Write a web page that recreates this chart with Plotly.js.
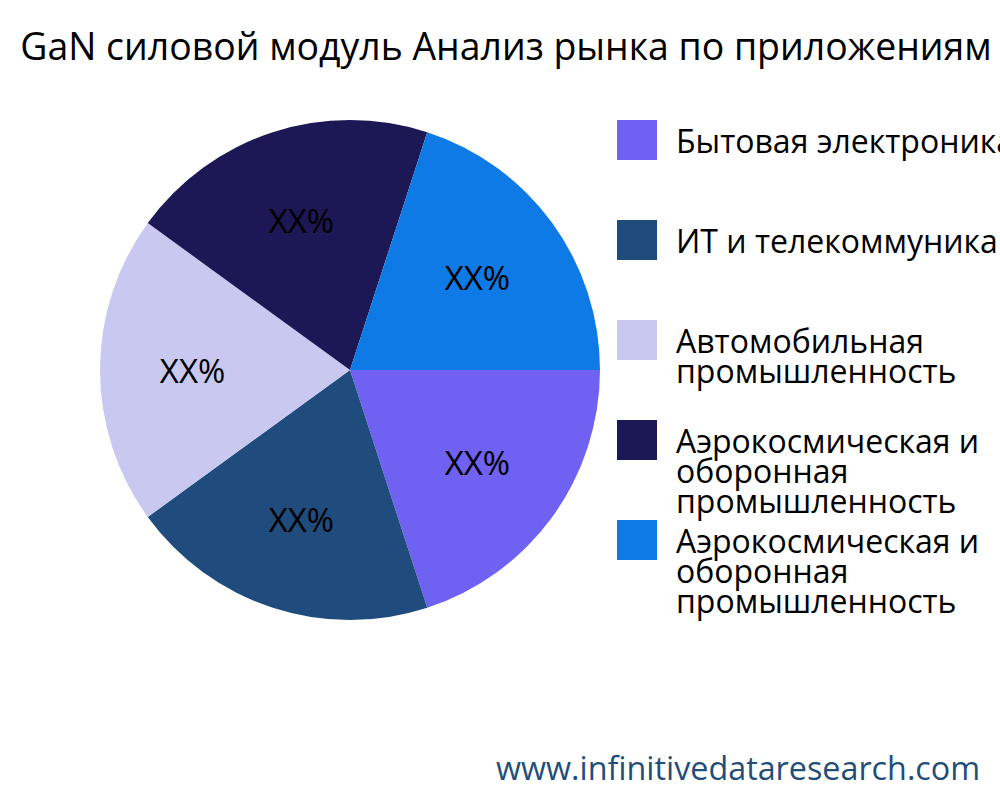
<!DOCTYPE html>
<html>
<head>
<meta charset="utf-8">
<script src="https://cdn.plot.ly/plotly-3.0.1.min.js"></script>
<style>html,body{margin:0;padding:0;background:#fff;}#chart{width:1000px;height:800px;}</style>
</head>
<body>
<div id="chart"></div>
<script>
const chartTitle = 'GaN силовой модуль Анализ рынка по приложениям';
const labels = ['Бытовая электроника', 'ИТ и телекоммуникации', 'Автомобильная промышленность', 'Аэрокосмическая и оборонная промышленность', 'Аэрокосмическая и оборонная промышленность'];
const values = [20, 20, 20, 20, 20];
const sliceText = ['XX%', 'XX%', 'XX%', 'XX%', 'XX%'];
const colors = ['#6F61F2', '#1F4C7C', '#C8C8F0', '#1C1755', '#0E7AE6'];
const watermark = 'www.infinitivedataresearch.com';

const W = 1000, H = 800;
const FONT = 'Open Sans, Noto Sans, sans-serif';

function wrap(str, maxLen) {
  const words = str.split(' ');
  const lines = [];
  let cur = '';
  words.forEach(w => {
    const cand = cur ? cur + ' ' + w : w;
    if (cand.length > maxLen && cur) { lines.push(cur); cur = w; }
    else cur = cand;
  });
  if (cur) lines.push(cur);
  return lines;
}

const trace = {
  type: 'pie',
  labels: labels.map((l, i) => l + ' #' + i),
  values: values,
  text: sliceText,
  textinfo: 'text',
  textposition: 'inside',
  insidetextorientation: 'horizontal',
  insidetextfont: {family: FONT, size: 33, color: '#000000'},
  marker: {colors: colors, line: {width: 0}},
  sort: false,
  direction: 'clockwise',
  rotation: 90,
  hoverinfo: 'none',
  showlegend: false,
  domain: {x: [100 / W, 600 / W], y: [1 - 620 / H, 1 - 120 / H]}
};

const shapes = [];
const annotations = [];
labels.forEach((lab, i) => {
  const cy = 140 + 100 * i;
  shapes.push({
    type: 'rect', xref: 'paper', yref: 'paper',
    x0: 617 / W, x1: 657 / W, y0: 1 - (cy - 20) / H, y1: 1 - (cy + 20) / H,
    fillcolor: colors[i], line: {width: 0}
  });
  wrap(lab, 22).forEach((ln, j) => {
    annotations.push({
      xref: 'paper', yref: 'paper', x: 674 / W, y: 1 - (cy + 30 * j) / H,
      xanchor: 'left', yanchor: 'middle', showarrow: false, text: ln,
      font: {family: FONT, size: 32, color: '#000000'}
    });
  });
});
annotations.push({
  xref: 'paper', yref: 'paper', x: 982 / W, y: 1 - 767 / H,
  xanchor: 'right', yanchor: 'middle', showarrow: false, text: watermark,
  font: {family: FONT, size: 32.3, color: '#1F4E79'}
});

const layout = {
  width: W, height: H,
  margin: {l: 0, r: 0, t: 0, b: 0},
  paper_bgcolor: '#ffffff',
  plot_bgcolor: '#ffffff',
  title: {text: chartTitle, x: 0.506, xanchor: 'center', y: 1 - 47 / H, yanchor: 'middle',
          font: {family: FONT, size: 37.4, color: '#000000'}},
  shapes: shapes,
  annotations: annotations,
  showlegend: false
};

Plotly.newPlot('chart', [trace], layout, {displayModeBar: false, staticPlot: true});
</script>
</body>
</html>
